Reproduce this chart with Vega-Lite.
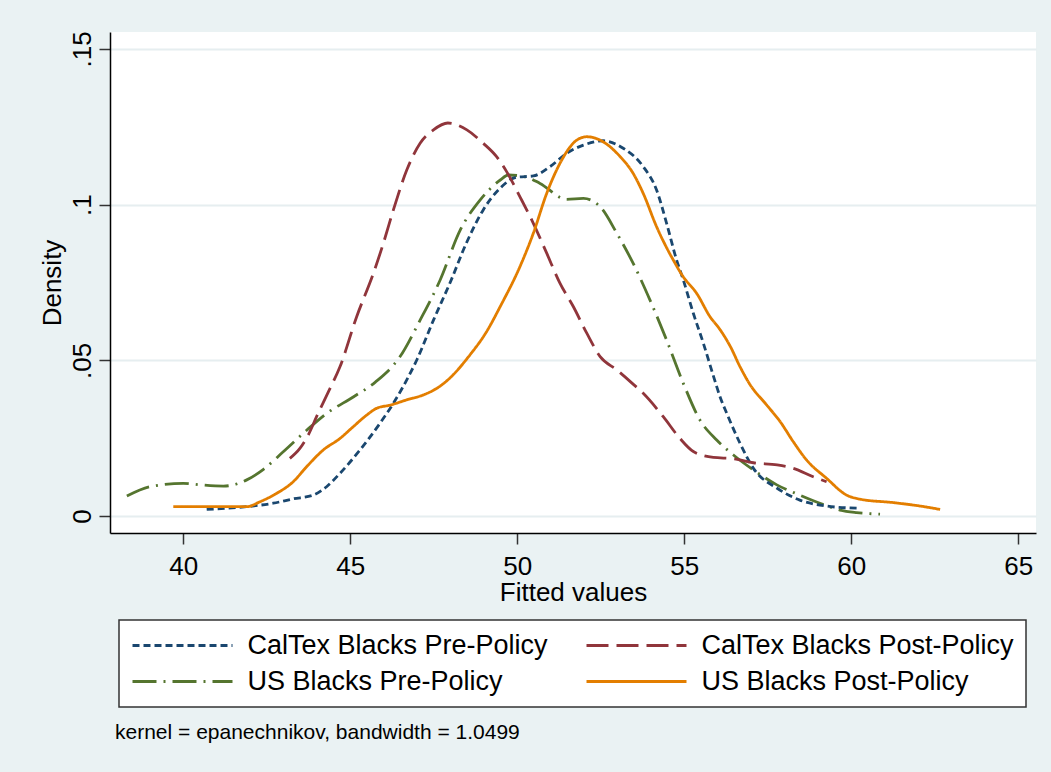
{
  "$schema": "https://vega.github.io/schema/vega-lite/v6.json",
  "autosize": {"type": "none"},
  "width": 926,
  "height": 501,
  "padding": {"left": 110, "top": 32, "right": 15, "bottom": 239},
  "background": "#EAF2F3",
  "title": {
    "text": "kernel = epanechnikov, bandwidth = 1.0499",
    "orient": "bottom",
    "anchor": "start",
    "frame": "group",
    "dx": 5,
    "offset": 14,
    "fontSize": 21,
    "font": "Liberation Sans",
    "fontWeight": "normal",
    "color": "#000000"
  },
  "datasets": {
    "kd": [
      {"series": "US Blacks Pre-Policy", "x": 38.31, "density": 0.0064},
      {"series": "US Blacks Pre-Policy", "x": 39.0, "density": 0.0094},
      {"series": "US Blacks Pre-Policy", "x": 40.0, "density": 0.0105},
      {"series": "US Blacks Pre-Policy", "x": 40.5, "density": 0.0100},
      {"series": "US Blacks Pre-Policy", "x": 41.2, "density": 0.0096},
      {"series": "US Blacks Pre-Policy", "x": 41.9, "density": 0.0116},
      {"series": "US Blacks Pre-Policy", "x": 42.4, "density": 0.0150},
      {"series": "US Blacks Pre-Policy", "x": 43.0, "density": 0.0207},
      {"series": "US Blacks Pre-Policy", "x": 43.7, "density": 0.0276},
      {"series": "US Blacks Pre-Policy", "x": 44.3, "density": 0.0330},
      {"series": "US Blacks Pre-Policy", "x": 45.1, "density": 0.0383},
      {"series": "US Blacks Pre-Policy", "x": 45.75, "density": 0.0430},
      {"series": "US Blacks Pre-Policy", "x": 46.49, "density": 0.0512},
      {"series": "US Blacks Pre-Policy", "x": 47.09, "density": 0.0629},
      {"series": "US Blacks Pre-Policy", "x": 47.69, "density": 0.0758},
      {"series": "US Blacks Pre-Policy", "x": 48.29, "density": 0.0918},
      {"series": "US Blacks Pre-Policy", "x": 48.89, "density": 0.1015},
      {"series": "US Blacks Pre-Policy", "x": 49.49, "density": 0.1079},
      {"series": "US Blacks Pre-Policy", "x": 49.73, "density": 0.1095},
      {"series": "US Blacks Pre-Policy", "x": 50.28, "density": 0.1088},
      {"series": "US Blacks Pre-Policy", "x": 50.68, "density": 0.1068},
      {"series": "US Blacks Pre-Policy", "x": 51.48, "density": 0.1017},
      {"series": "US Blacks Pre-Policy", "x": 51.98, "density": 0.1020},
      {"series": "US Blacks Pre-Policy", "x": 52.48, "density": 0.0993},
      {"series": "US Blacks Pre-Policy", "x": 52.98, "density": 0.0908},
      {"series": "US Blacks Pre-Policy", "x": 53.47, "density": 0.0811},
      {"series": "US Blacks Pre-Policy", "x": 53.97, "density": 0.0694},
      {"series": "US Blacks Pre-Policy", "x": 54.47, "density": 0.0565},
      {"series": "US Blacks Pre-Policy", "x": 54.97, "density": 0.0426},
      {"series": "US Blacks Pre-Policy", "x": 55.47, "density": 0.0308},
      {"series": "US Blacks Pre-Policy", "x": 55.97, "density": 0.0244},
      {"series": "US Blacks Pre-Policy", "x": 56.47, "density": 0.0196},
      {"series": "US Blacks Pre-Policy", "x": 57.07, "density": 0.0148},
      {"series": "US Blacks Pre-Policy", "x": 57.77, "density": 0.0100},
      {"series": "US Blacks Pre-Policy", "x": 58.46, "density": 0.0067},
      {"series": "US Blacks Pre-Policy", "x": 59.06, "density": 0.0041},
      {"series": "US Blacks Pre-Policy", "x": 59.66, "density": 0.0019},
      {"series": "US Blacks Pre-Policy", "x": 60.16, "density": 0.0011},
      {"series": "US Blacks Pre-Policy", "x": 60.86, "density": 0.0006},

      {"series": "CalTex Blacks Pre-Policy", "x": 40.70, "density": 0.0021},
      {"series": "CalTex Blacks Pre-Policy", "x": 41.90, "density": 0.0030},
      {"series": "CalTex Blacks Pre-Policy", "x": 42.69, "density": 0.0041},
      {"series": "CalTex Blacks Pre-Policy", "x": 43.29, "density": 0.0055},
      {"series": "CalTex Blacks Pre-Policy", "x": 43.89, "density": 0.0067},
      {"series": "CalTex Blacks Pre-Policy", "x": 44.29, "density": 0.0094},
      {"series": "CalTex Blacks Pre-Policy", "x": 44.69, "density": 0.0137},
      {"series": "CalTex Blacks Pre-Policy", "x": 45.29, "density": 0.0212},
      {"series": "CalTex Blacks Pre-Policy", "x": 45.89, "density": 0.0298},
      {"series": "CalTex Blacks Pre-Policy", "x": 46.29, "density": 0.0362},
      {"series": "CalTex Blacks Pre-Policy", "x": 46.69, "density": 0.0437},
      {"series": "CalTex Blacks Pre-Policy", "x": 46.99, "density": 0.0501},
      {"series": "CalTex Blacks Pre-Policy", "x": 47.49, "density": 0.0629},
      {"series": "CalTex Blacks Pre-Policy", "x": 47.99, "density": 0.0750},
      {"series": "CalTex Blacks Pre-Policy", "x": 48.49, "density": 0.0880},
      {"series": "CalTex Blacks Pre-Policy", "x": 48.98, "density": 0.0983},
      {"series": "CalTex Blacks Pre-Policy", "x": 49.48, "density": 0.1052},
      {"series": "CalTex Blacks Pre-Policy", "x": 49.98, "density": 0.1088},
      {"series": "CalTex Blacks Pre-Policy", "x": 50.48, "density": 0.1092},
      {"series": "CalTex Blacks Pre-Policy", "x": 50.98, "density": 0.1122},
      {"series": "CalTex Blacks Pre-Policy", "x": 51.48, "density": 0.1165},
      {"series": "CalTex Blacks Pre-Policy", "x": 51.98, "density": 0.1191},
      {"series": "CalTex Blacks Pre-Policy", "x": 52.57, "density": 0.1205},
      {"series": "CalTex Blacks Pre-Policy", "x": 53.17, "density": 0.1181},
      {"series": "CalTex Blacks Pre-Policy", "x": 53.77, "density": 0.1122},
      {"series": "CalTex Blacks Pre-Policy", "x": 54.17, "density": 0.1047},
      {"series": "CalTex Blacks Pre-Policy", "x": 54.47, "density": 0.0940},
      {"series": "CalTex Blacks Pre-Policy", "x": 54.77, "density": 0.0822},
      {"series": "CalTex Blacks Pre-Policy", "x": 54.97, "density": 0.0758},
      {"series": "CalTex Blacks Pre-Policy", "x": 55.27, "density": 0.0651},
      {"series": "CalTex Blacks Pre-Policy", "x": 55.57, "density": 0.0555},
      {"series": "CalTex Blacks Pre-Policy", "x": 55.87, "density": 0.0450},
      {"series": "CalTex Blacks Pre-Policy", "x": 56.08, "density": 0.0380},
      {"series": "CalTex Blacks Pre-Policy", "x": 56.27, "density": 0.0330},
      {"series": "CalTex Blacks Pre-Policy", "x": 56.67, "density": 0.0233},
      {"series": "CalTex Blacks Pre-Policy", "x": 57.07, "density": 0.0153},
      {"series": "CalTex Blacks Pre-Policy", "x": 57.78, "density": 0.0089},
      {"series": "CalTex Blacks Pre-Policy", "x": 58.46, "density": 0.0051},
      {"series": "CalTex Blacks Pre-Policy", "x": 59.26, "density": 0.0032},
      {"series": "CalTex Blacks Pre-Policy", "x": 60.16, "density": 0.0025},

      {"series": "CalTex Blacks Post-Policy", "x": 43.19, "density": 0.0185},
      {"series": "CalTex Blacks Post-Policy", "x": 43.49, "density": 0.0217},
      {"series": "CalTex Blacks Post-Policy", "x": 43.74, "density": 0.0260},
      {"series": "CalTex Blacks Post-Policy", "x": 43.99, "density": 0.0319},
      {"series": "CalTex Blacks Post-Policy", "x": 44.35, "density": 0.0400},
      {"series": "CalTex Blacks Post-Policy", "x": 44.69, "density": 0.0479},
      {"series": "CalTex Blacks Post-Policy", "x": 45.19, "density": 0.0640},
      {"series": "CalTex Blacks Post-Policy", "x": 45.69, "density": 0.0779},
      {"series": "CalTex Blacks Post-Policy", "x": 45.99, "density": 0.0876},
      {"series": "CalTex Blacks Post-Policy", "x": 46.29, "density": 0.0983},
      {"series": "CalTex Blacks Post-Policy", "x": 46.69, "density": 0.1111},
      {"series": "CalTex Blacks Post-Policy", "x": 47.09, "density": 0.1197},
      {"series": "CalTex Blacks Post-Policy", "x": 47.49, "density": 0.1240},
      {"series": "CalTex Blacks Post-Policy", "x": 47.92, "density": 0.1262},
      {"series": "CalTex Blacks Post-Policy", "x": 48.49, "density": 0.1240},
      {"series": "CalTex Blacks Post-Policy", "x": 48.98, "density": 0.1197},
      {"series": "CalTex Blacks Post-Policy", "x": 49.38, "density": 0.1154},
      {"series": "CalTex Blacks Post-Policy", "x": 49.68, "density": 0.1106},
      {"series": "CalTex Blacks Post-Policy", "x": 50.08, "density": 0.1025},
      {"series": "CalTex Blacks Post-Policy", "x": 50.48, "density": 0.0940},
      {"series": "CalTex Blacks Post-Policy", "x": 50.88, "density": 0.0844},
      {"series": "CalTex Blacks Post-Policy", "x": 51.28, "density": 0.0747},
      {"series": "CalTex Blacks Post-Policy", "x": 51.68, "density": 0.0672},
      {"series": "CalTex Blacks Post-Policy", "x": 52.08, "density": 0.0587},
      {"series": "CalTex Blacks Post-Policy", "x": 52.48, "density": 0.0512},
      {"series": "CalTex Blacks Post-Policy", "x": 52.98, "density": 0.0469},
      {"series": "CalTex Blacks Post-Policy", "x": 53.40, "density": 0.0430},
      {"series": "CalTex Blacks Post-Policy", "x": 53.77, "density": 0.0394},
      {"series": "CalTex Blacks Post-Policy", "x": 54.37, "density": 0.0319},
      {"series": "CalTex Blacks Post-Policy", "x": 54.87, "density": 0.0249},
      {"series": "CalTex Blacks Post-Policy", "x": 55.27, "density": 0.0207},
      {"series": "CalTex Blacks Post-Policy", "x": 55.87, "density": 0.0188},
      {"series": "CalTex Blacks Post-Policy", "x": 56.47, "density": 0.0184},
      {"series": "CalTex Blacks Post-Policy", "x": 57.07, "density": 0.0171},
      {"series": "CalTex Blacks Post-Policy", "x": 57.78, "density": 0.0164},
      {"series": "CalTex Blacks Post-Policy", "x": 58.26, "density": 0.0153},
      {"series": "CalTex Blacks Post-Policy", "x": 58.86, "density": 0.0126},
      {"series": "CalTex Blacks Post-Policy", "x": 59.26, "density": 0.0110},

      {"series": "US Blacks Post-Policy", "x": 39.70, "density": 0.0030},
      {"series": "US Blacks Post-Policy", "x": 41.90, "density": 0.0030},
      {"series": "US Blacks Post-Policy", "x": 42.30, "density": 0.0046},
      {"series": "US Blacks Post-Policy", "x": 42.80, "density": 0.0073},
      {"series": "US Blacks Post-Policy", "x": 43.29, "density": 0.0110},
      {"series": "US Blacks Post-Policy", "x": 43.69, "density": 0.0158},
      {"series": "US Blacks Post-Policy", "x": 44.19, "density": 0.0212},
      {"series": "US Blacks Post-Policy", "x": 44.69, "density": 0.0249},
      {"series": "US Blacks Post-Policy", "x": 45.09, "density": 0.0287},
      {"series": "US Blacks Post-Policy", "x": 45.49, "density": 0.0324},
      {"series": "US Blacks Post-Policy", "x": 45.79, "density": 0.0346},
      {"series": "US Blacks Post-Policy", "x": 46.19, "density": 0.0356},
      {"series": "US Blacks Post-Policy", "x": 46.69, "density": 0.0373},
      {"series": "US Blacks Post-Policy", "x": 47.19, "density": 0.0389},
      {"series": "US Blacks Post-Policy", "x": 47.59, "density": 0.0410},
      {"series": "US Blacks Post-Policy", "x": 47.95, "density": 0.0440},
      {"series": "US Blacks Post-Policy", "x": 48.58, "density": 0.0517},
      {"series": "US Blacks Post-Policy", "x": 49.08, "density": 0.0592},
      {"series": "US Blacks Post-Policy", "x": 49.50, "density": 0.0675},
      {"series": "US Blacks Post-Policy", "x": 50.08, "density": 0.0801},
      {"series": "US Blacks Post-Policy", "x": 50.48, "density": 0.0908},
      {"series": "US Blacks Post-Policy", "x": 50.88, "density": 0.1036},
      {"series": "US Blacks Post-Policy", "x": 51.28, "density": 0.1133},
      {"series": "US Blacks Post-Policy", "x": 51.78, "density": 0.1207},
      {"series": "US Blacks Post-Policy", "x": 52.08, "density": 0.1218},
      {"series": "US Blacks Post-Policy", "x": 52.48, "density": 0.1207},
      {"series": "US Blacks Post-Policy", "x": 53.08, "density": 0.1154},
      {"series": "US Blacks Post-Policy", "x": 53.47, "density": 0.1100},
      {"series": "US Blacks Post-Policy", "x": 53.77, "density": 0.1036},
      {"series": "US Blacks Post-Policy", "x": 54.17, "density": 0.0929},
      {"series": "US Blacks Post-Policy", "x": 54.67, "density": 0.0822},
      {"series": "US Blacks Post-Policy", "x": 54.97, "density": 0.0768},
      {"series": "US Blacks Post-Policy", "x": 55.37, "density": 0.0715},
      {"series": "US Blacks Post-Policy", "x": 55.77, "density": 0.0640},
      {"series": "US Blacks Post-Policy", "x": 56.08, "density": 0.0597},
      {"series": "US Blacks Post-Policy", "x": 56.38, "density": 0.0544},
      {"series": "US Blacks Post-Policy", "x": 56.67, "density": 0.0479},
      {"series": "US Blacks Post-Policy", "x": 56.95, "density": 0.0425},
      {"series": "US Blacks Post-Policy", "x": 57.47, "density": 0.0356},
      {"series": "US Blacks Post-Policy", "x": 57.87, "density": 0.0303},
      {"series": "US Blacks Post-Policy", "x": 58.26, "density": 0.0239},
      {"series": "US Blacks Post-Policy", "x": 58.66, "density": 0.0180},
      {"series": "US Blacks Post-Policy", "x": 59.26, "density": 0.0121},
      {"series": "US Blacks Post-Policy", "x": 59.86, "density": 0.0067},
      {"series": "US Blacks Post-Policy", "x": 60.26, "density": 0.0054},
      {"series": "US Blacks Post-Policy", "x": 61.26, "density": 0.0043},
      {"series": "US Blacks Post-Policy", "x": 62.06, "density": 0.0032},
      {"series": "US Blacks Post-Policy", "x": 62.66, "density": 0.0021}
    ]
  },
  "data": {"name": "kd"},
  "mark": {"type": "line", "strokeWidth": 2.8, "interpolate": "monotone"},
  "encoding": {
    "x": {
      "field": "x",
      "type": "quantitative",
      "scale": {"domain": [37.805, 65.53], "nice": false, "zero": false},
      "axis": {"values": [40, 45, 50, 55, 60, 65], "title": "Fitted values", "grid": false}
    },
    "y": {
      "field": "density",
      "type": "quantitative",
      "scale": {"domain": [-0.00546, 0.15543], "nice": false, "zero": false},
      "axis": {
        "values": [0, 0.05, 0.1, 0.15],
        "title": "Density",
        "grid": true,
        "labelExpr": "datum.value == 0 ? '0' : replace(format(datum.value, '.2~f'), '0.', '.')",
        "labelAngle": -90,
        "labelAlign": "center",
        "labelBaseline": "bottom"
      }
    },
    "color": {
      "field": "series",
      "type": "nominal",
      "scale": {
        "domain": ["CalTex Blacks Pre-Policy", "CalTex Blacks Post-Policy", "US Blacks Pre-Policy", "US Blacks Post-Policy"],
        "range": ["#1A476F", "#90353B", "#55752F", "#E37E00"]
      },
      "legend": {"title": null, "encode": {"legend": {"update": {"strokeWidth": {"value": 1.5}}}}}
    },
    "strokeDash": {
      "field": "series",
      "type": "nominal",
      "scale": {
        "domain": ["CalTex Blacks Pre-Policy", "CalTex Blacks Post-Policy", "US Blacks Pre-Policy", "US Blacks Post-Policy"],
        "range": [[7, 4], [22, 8], [24, 7, 2, 7], [1, 0]]
      },
      "legend": {"title": null, "encode": {"legend": {"update": {"strokeWidth": {"value": 1.5}}}}}
    }
  },
  "config": {
    "font": "Liberation Sans",
    "view": {"fill": "white", "stroke": null},
    "axis": {
      "domainColor": "#000000",
      "domainWidth": 1.5,
      "tickColor": "#333333",
      "tickWidth": 1.5,
      "tickSize": 11,
      "labelFont": "Liberation Sans",
      "labelFontSize": 26,
      "labelColor": "#000000",
      "titleFont": "Liberation Sans",
      "titleFontSize": 26,
      "titleFontWeight": "normal",
      "titleColor": "#000000",
      "gridColor": "#E6EEF0",
      "gridWidth": 2,
      "labelOverlap": false
    },
    "axisX": {"labelPadding": 9, "titlePadding": 0},
    "axisY": {"labelPadding": 4, "titlePadding": 4},
    "legend": {
      "orient": "none",
      "legendX": 9,
      "legendY": 588,
      "direction": "horizontal",
      "columns": 2,
      "symbolType": "stroke",
      "symbolSize": 10000,
      "symbolStrokeWidth": 2.8,
      "clipHeight": 27,
      "labelFont": "Liberation Sans",
      "labelFontSize": 27,
      "labelColor": "#000000",
      "labelLimit": 600,
      "labelOffset": 13.5,
      "columnPadding": 37,
      "rowPadding": 8,
      "padding": 12,
      "fillColor": "white",
      "strokeColor": "#333333"
    }
  }
}
